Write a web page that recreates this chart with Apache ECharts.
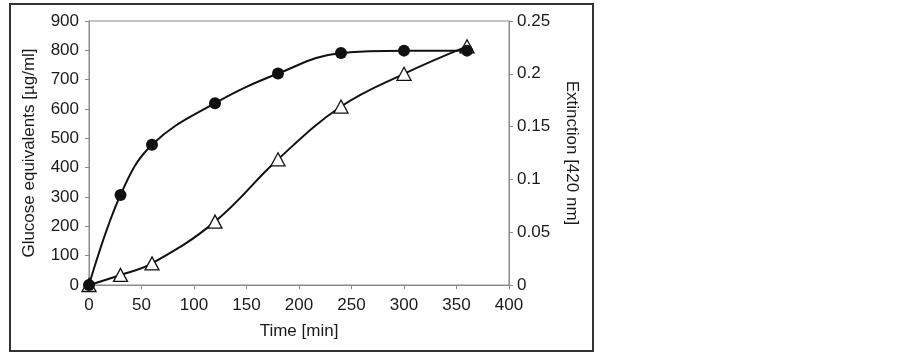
<!DOCTYPE html>
<html>
<head>
<meta charset="UTF-8">
<title>Glucose / Extinction</title>
<script src="https://cdn.jsdelivr.net/npm/echarts@6/dist/echarts.min.js"></script>
<style>
  html, body { margin: 0; padding: 0; background: #fff; }
  #chart { width: 903px; height: 357px; }
</style>
</head>
<body>
<div id="chart"></div>
<script>
// time points [min]
var times = [0, 30, 60, 120, 180, 240, 300, 360];
// glucose equivalents [ug/ml], filled circles, left axis
var glucose = [0, 307, 478, 620, 721, 791, 799, 799];
// extinction at 420 nm, open triangles, right axis
var extinction = [0, 0.0095, 0.0205, 0.06, 0.119, 0.169, 0.2, 0.226];

var xTicks = { min: 0, max: 400, interval: 50 };
var leftTicks = { min: 0, max: 900, interval: 100 };
var rightTicks = { min: 0, max: 0.25, interval: 0.05 };

function pairs(ys) {
  return times.map(function (t, i) { return [t, ys[i]]; });
}

var font = 'Liberation Sans, Arial, sans-serif';
var axisColor = '#8a8a8a';
var txt = '#1a1a1a';
var fs = 17;

var chart = echarts.init(document.getElementById('chart'));
chart.setOption({
  animation: false,
  backgroundColor: '#fff',
  textStyle: { fontFamily: font },
  grid: {
    left: 89, right: 394, top: 21, bottom: 72,
    show: true, borderColor: axisColor, borderWidth: 1, backgroundColor: 'transparent'
  },
  graphic: [{
    type: 'rect',
    shape: { x: 10, y: 4, width: 583, height: 347 },
    style: { fill: 'none', stroke: '#333', lineWidth: 2 },
    silent: true
  }],
  xAxis: {
    type: 'value',
    min: xTicks.min, max: xTicks.max, interval: xTicks.interval,
    name: 'Time [min]', nameLocation: 'middle', nameGap: 38,
    nameTextStyle: { fontSize: fs, color: txt, fontFamily: font },
    axisLine: { show: true, lineStyle: { color: axisColor, width: 1 } },
    axisTick: { show: true, length: 4, lineStyle: { color: axisColor } },
    axisLabel: { fontSize: fs, color: txt, margin: 12, fontFamily: font },
    splitLine: { show: false }
  },
  yAxis: [{
    type: 'value', position: 'left',
    min: leftTicks.min, max: leftTicks.max, interval: leftTicks.interval,
    name: 'Glucose equivalents [\u00b5g/ml]', nameLocation: 'middle', nameGap: 51, nameRotate: 90,
    nameTextStyle: { fontSize: fs, color: txt, fontFamily: font },
    axisLine: { show: true, lineStyle: { color: axisColor, width: 1 } },
    axisTick: { show: true, length: 4, lineStyle: { color: axisColor } },
    axisLabel: { fontSize: fs, color: txt, margin: 10, fontFamily: font },
    splitLine: { show: false }
  }, {
    type: 'value', position: 'right',
    min: rightTicks.min, max: rightTicks.max, interval: rightTicks.interval,
    name: 'Extinction [420 nm]', nameLocation: 'middle', nameGap: 54, nameRotate: -90,
    nameTextStyle: { fontSize: fs, color: txt, fontFamily: font },
    axisLine: { show: true, lineStyle: { color: axisColor, width: 1 } },
    axisTick: { show: true, length: 4, lineStyle: { color: axisColor } },
    axisLabel: { fontSize: fs, color: txt, margin: 8, fontFamily: font },
    splitLine: { show: false }
  }],
  series: [{
    name: 'Extinction',
    type: 'line', yAxisIndex: 1, smooth: 0.4,
    data: pairs(extinction),
    symbol: 'triangle', symbolSize: [14, 13],
    lineStyle: { color: '#111', width: 2 },
    itemStyle: { color: '#fff', borderColor: '#111', borderWidth: 1.3 }
  }, {
    name: 'Glucose equivalents',
    type: 'line', yAxisIndex: 0, smooth: 0.4,
    data: pairs(glucose),
    symbol: 'circle', symbolSize: 12,
    lineStyle: { color: '#111', width: 2 },
    itemStyle: { color: '#111', borderColor: '#111', borderWidth: 0 }
  }]
});
</script>
</body>
</html>
